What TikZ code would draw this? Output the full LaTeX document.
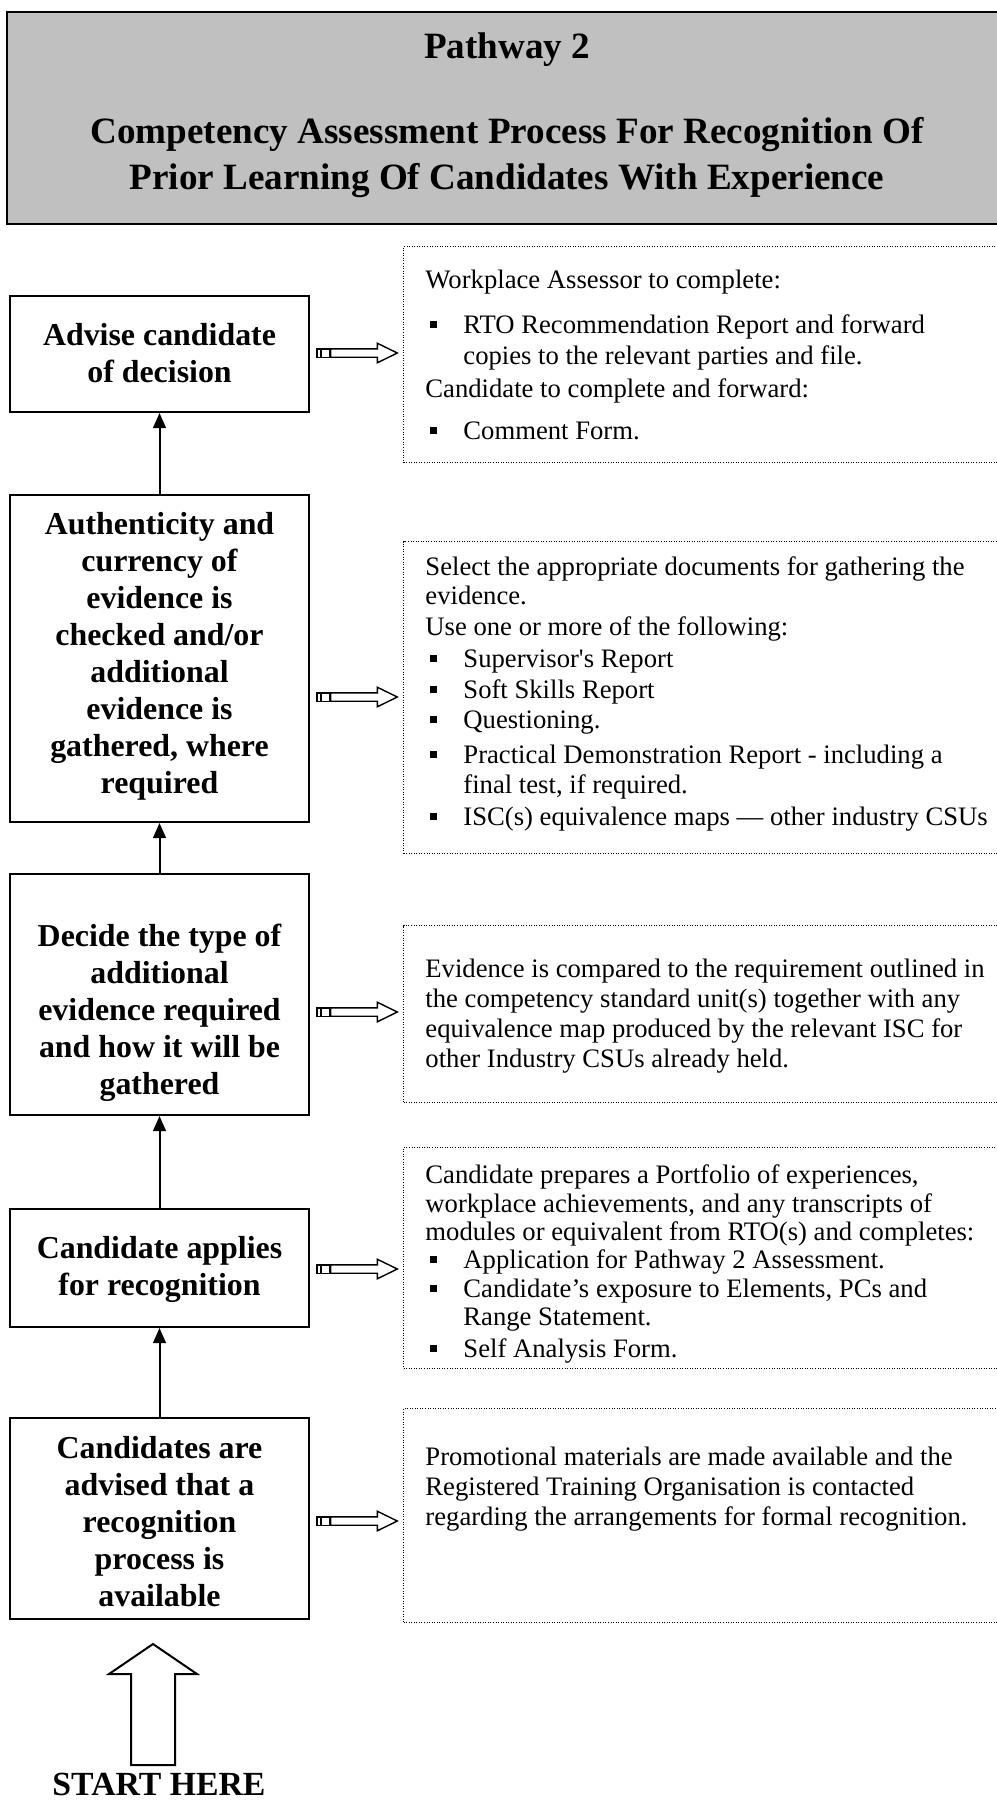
\documentclass[tikz,border=0pt]{standalone}
\usepackage{fontspec}
\setmainfont{Liberation Serif}
\usetikzlibrary{arrows.meta}
\newcommand\pxu{0.45pt}
\definecolor{titlegray}{HTML}{C0C0C0}
\tikzset{
  body/.style={anchor=base west, inner sep=0pt, font=\fontsize{12pt}{14pt}\selectfont},
  steptext/.style={anchor=base, inner sep=0pt, font=\fontsize{14.35pt}{16pt}\selectfont\bfseries},
  titletext/.style={anchor=base, inner sep=0pt, font=\fontsize{16.7pt}{19pt}\selectfont\bfseries},
  stepbox/.style={draw, line width=0.9pt, inner sep=0pt, minimum width=299*\pxu},
  notebox/.style={draw, line width=0.45pt, dash pattern=on 0.45pt off 0.7pt, anchor=north west,
    inner sep=0pt, minimum width=607*\pxu},
  bul/.style={fill, inner sep=0pt, minimum size=7*\pxu},
  uparrow/.style={line width=0.9pt, -{Triangle[length=6.8pt,width=5.8pt]}},
  hollow/.pic={
    \draw[line width=0.63pt] (0,-4.2) rectangle (3.7,4.2);
    \draw[line width=0.63pt] (4.7,-4.2) rectangle (12.3,4.2);
    \draw[line width=0.63pt, line join=miter] (13.7,-4.2) -- (60.3,-4.2) -- (60.3,-9.8)
      -- (80.3,0) -- (60.3,9.8) -- (60.3,4.2) -- (13.7,4.2) -- cycle;
  },
}
\begin{document}
\begin{tikzpicture}[x=0.45pt,y=-0.45pt]
\useasboundingbox (0,0) rectangle (997,1802);
\clip (0,0) rectangle (997,1802);

% heading panel
\node[draw, line width=0.9pt, fill=titlegray, anchor=north west, inner sep=0pt,
  minimum width=1010*\pxu, minimum height=212*\pxu] (head) at (6,11) {};
\node[titletext] (head1) at (507,58) {Pathway 2};
\node[titletext] (head2) at (507,143) {Competency Assessment Process For Recognition Of};
\node[titletext] (head3) at (507,189) {Prior Learning Of Candidates With Experience};

% process steps (bottom to top)
\node[stepbox, minimum height=116*\pxu] (s1) at (159.5,354) {};
\node[stepbox, minimum height=327*\pxu] (s2) at (159.5,658.5) {};
\node[stepbox, minimum height=241*\pxu] (s3) at (159.5,994.5) {};
\node[stepbox, minimum height=118*\pxu] (s4) at (159.5,1268) {};
\node[stepbox, minimum height=201*\pxu] (s5) at (159.5,1518.5) {};

\foreach \t [count=\i from 0] in {Advise candidate, of decision}
  \node[steptext] (s1t\i) at (159.5,{345+37*\i}) {\t};
\foreach \t [count=\i from 0] in {Authenticity and, currency of, evidence is, checked and/or,
    additional, evidence is, {gathered, where}, required}
  \node[steptext] (s2t\i) at (159.5,{534+37*\i}) {\t};
\foreach \t [count=\i from 0] in {Decide the type of, additional, evidence required,
    and how it will be, gathered}
  \node[steptext] (s3t\i) at (159.5,{946+37*\i}) {\t};
\foreach \t [count=\i from 0] in {Candidate applies, for recognition}
  \node[steptext] (s4t\i) at (159.5,{1258+37*\i}) {\t};
\foreach \t [count=\i from 0] in {Candidates are, advised that a, recognition, process is, available}
  \node[steptext] (s5t\i) at (159.5,{1458+37*\i}) {\t};

\draw[uparrow] (s2.north) -- (s1.south);
\draw[uparrow] (s3.north) -- (s2.south);
\draw[uparrow] (s4.north) -- (s3.south);
\draw[uparrow] (s5.north) -- (s4.south);

% note panels
\node[notebox, minimum height=216*\pxu] (p1) at (403,246) {};
\node[notebox, minimum height=312*\pxu] (p2) at (403,541) {};
\node[notebox, minimum height=177*\pxu] (p3) at (403,925) {};
\node[notebox, minimum height=221*\pxu] (p4) at (403,1147) {};
\node[notebox, minimum height=214*\pxu] (p5) at (403,1408) {};

% striped arrows from steps to notes
\pic at (317,353) {hollow};
\pic at (317,697) {hollow};
\pic at (317,1012) {hollow};
\pic at (317,1269) {hollow};
\pic at (317,1521) {hollow};

% note 1
\node[body] (p1a) at (425,288) {Workplace Assessor to complete:};
\node[bul] (p1b1) at (433,324) {};
\node[body] (p1b) at (463,333) {RTO Recommendation Report and forward};
\node[body] (p1c) at (463,364) {copies to the relevant parties and file.};
\node[body] (p1d) at (425,397) {Candidate to complete and forward:};
\node[bul] (p1e1) at (433,430) {};
\node[body] (p1e) at (463,439) {Comment Form.};

% note 2
\node[body] (p2a) at (425,575) {Select the appropriate documents for gathering the};
\node[body] (p2b) at (425,604) {evidence.};
\node[body] (p2c) at (425,635) {Use one or more of the following:};
\node[bul] (p2d1) at (433,658) {};
\node[body] (p2d) at (463,667) {Supervisor\textquotesingle s Report};
\node[bul] (p2e1) at (433,689) {};
\node[body] (p2e) at (463,698) {Soft Skills Report};
\node[bul] (p2f1) at (433,719) {};
\node[body] (p2f) at (463,728) {Questioning.};
\node[bul] (p2g1) at (433,754) {};
\node[body] (p2g) at (463,763) {Practical Demonstration Report - including a};
\node[body] (p2h) at (463,793) {final test, if required.};
\node[bul] (p2i1) at (433,816) {};
\node[body] (p2i) at (463,825) {ISC(s) equivalence maps — other industry CSUs};

% note 3
\node[body] (p3a) at (425,977) {Evidence is compared to the requirement outlined in};
\node[body] (p3b) at (425,1007) {the competency standard unit(s) together with any};
\node[body] (p3c) at (425,1037) {equivalence map produced by the relevant ISC for};
\node[body] (p3d) at (425,1067) {other Industry CSUs already held.};

% note 4
\node[body] (p4a) at (425,1183) {Candidate prepares a Portfolio of experiences,};
\node[body] (p4b) at (425,1212) {workplace achievements, and any transcripts of};
\node[body] (p4c) at (425,1240) {modules or equivalent from RTO(s) and completes:};
\node[bul] (p4d1) at (433,1259) {};
\node[body] (p4d) at (463,1268) {Application for Pathway 2 Assessment.};
\node[bul] (p4e1) at (433,1288) {};
\node[body] (p4e) at (463,1297) {Candidate’s exposure to Elements, PCs and};
\node[body] (p4f) at (463,1325) {Range Statement.};
\node[bul] (p4g1) at (433,1348) {};
\node[body] (p4g) at (463,1357) {Self Analysis Form.};

% note 5
\node[body] (p5a) at (425,1465) {Promotional materials are made available and the};
\node[body] (p5b) at (425,1495) {Registered Training Organisation is contacted};
\node[body] (p5c) at (425,1525) {regarding the arrangements for formal recognition.};

% start marker
\draw[line width=0.9pt, line join=miter] (153,1644) -- (197,1674) -- (175,1674) -- (175,1765)
  -- (131,1765) -- (131,1674) -- (109,1674) -- cycle;
\node[anchor=base, inner sep=0pt, font=\fontsize{15.2pt}{17pt}\selectfont\bfseries] (start)
  at (159,1795) {START HERE};
\end{tikzpicture}
\end{document}
